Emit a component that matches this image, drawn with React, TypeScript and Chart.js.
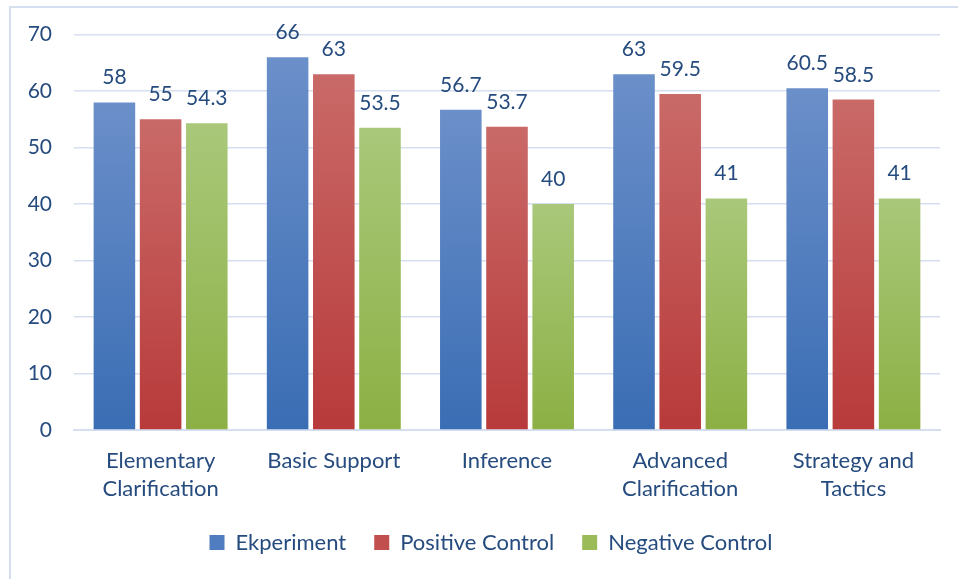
import React, { useEffect, useRef } from "react";
import { Chart, registerables } from "chart.js";

Chart.register(...registerables);

const categories: string[][] = [
  ["Elementary", "Clarification"],
  ["Basic Support"],
  ["Inference"],
  ["Advanced", "Clarification"],
  ["Strategy and", "Tactics"],
];
const ekperiment = [58, 66, 56.7, 63, 60.5];
const positiveControl = [55, 63, 53.7, 59.5, 58.5];
const negativeControl = [54.3, 53.5, 40, 41, 41];
const yTicks = [0, 10, 20, 30, 40, 50, 60, 70];

const TEXT = "#264b7e";
const FONT = "Lato";
const FS = 21;

function gradFill(top: string, bottom: string) {
  return (ctx: any) => {
    const chart = ctx.chart;
    const area = chart.chartArea;
    if (!area || ctx.raw == null) return bottom;
    const ys = chart.scales.y;
    const y0 = ys.getPixelForValue(ctx.raw);
    const y1 = ys.getPixelForValue(0);
    const g = chart.ctx.createLinearGradient(0, y0, 0, y1);
    g.addColorStop(0, top);
    g.addColorStop(1, bottom);
    return g;
  };
}

const valueLabels = {
  id: "valueLabels",
  afterDatasetsDraw(chart: any) {
    const c = chart.ctx;
    c.save();
    c.font = `${FS}px ${FONT}`;
    c.fillStyle = TEXT;
    c.textAlign = "center";
    c.textBaseline = "alphabetic";
    chart.data.datasets.forEach((ds: any, i: number) => {
      const meta = chart.getDatasetMeta(i);
      meta.data.forEach((bar: any, j: number) => {
        c.fillText(String(ds.data[j]), bar.x, bar.y - 18);
      });
    });
    c.restore();
  },
};

const frame = {
  id: "frame",
  beforeDraw(chart: any) {
    const c = chart.ctx;
    c.save();
    c.strokeStyle = "#d5dff0";
    c.lineWidth = 2;
    c.strokeRect(10, 7, 1000, 1000);
    c.restore();
  },
};

// centre the legend row under the frame (Excel-style) rather than the padded canvas
const legendShift = {
  id: "legendShift",
  afterLayout(chart: any) {
    if (chart.legend) {
      chart.legend.left += 21;
      chart.legend.right += 21;
    }
  },
};

export default function App() {
  const ref = useRef<HTMLCanvasElement>(null);
  useEffect(() => {
    if (!ref.current) return;
    const chart = new Chart(ref.current, {
      type: "bar",
      data: {
        labels: categories,
        datasets: [
          {
            label: "Ekperiment",
            data: ekperiment,
            backgroundColor: gradFill("#6b8fc9", "#3a6db4"),
            borderWidth: 0,
          },
          {
            label: "Positive Control",
            data: positiveControl,
            backgroundColor: gradFill("#c96a68", "#b83a3a"),
            borderWidth: 0,
          },
          {
            label: "Negative Control",
            data: negativeControl,
            backgroundColor: gradFill("#a9c87a", "#8cb044"),
            borderWidth: 0,
          },
        ],
      },
      plugins: [frame, valueLabels, legendShift],
      options: {
        animation: false,
        responsive: false,
        devicePixelRatio: 1,
        layout: { padding: { top: 29, right: 18, left: 0, bottom: 15.5 } },
        scales: {
          x: {
            grid: { display: false, drawTicks: false },
            border: { display: true, color: "#d5dff0", width: 2 },
            ticks: {
              color: TEXT,
              font: { family: FONT, size: 22, lineHeight: 1.27 },
              padding: 17,
              maxRotation: 0,
              autoSkip: false,
            },
            afterFit(scale: any) {
              scale.height = 73.5;
            },
            categoryPercentage: 0.83,
            barPercentage: 0.82,
          },
          y: {
            min: 0,
            max: 70,
            afterBuildTicks(scale: any) {
              scale.ticks = yTicks.map((v) => ({ value: v }));
            },
            afterFit(scale: any) {
              scale.width = 74;
            },
            grid: { color: "#d5dff0", lineWidth: 1.5, drawTicks: false },
            border: { display: false },
            ticks: {
              color: TEXT,
              font: { family: FONT, size: FS },
              padding: 22,
            },
          },
        },
        plugins: {
          legend: {
            position: "bottom",
            labels: {
              color: TEXT,
              font: { family: FONT, size: 22 },
              boxWidth: 15,
              boxHeight: 15,
              padding: 28,
              generateLabels(chart: any) {
                const cols = ["#4f7dbf", "#c04f4d", "#9bbb59"];
                return chart.data.datasets.map((d: any, i: number) => ({
                  text: d.label,
                  fillStyle: cols[i],
                  strokeStyle: cols[i],
                  lineWidth: 0,
                  fontColor: TEXT,
                  datasetIndex: i,
                  hidden: false,
                }));
              },
            },
          },
          tooltip: { enabled: false },
        },
      },
    });
    return () => chart.destroy();
  }, []);
  return (
    <div style={{ position: "absolute", left: 0, top: 0, width: 958, height: 579, background: "#fff" }}>
      <canvas ref={ref} width={958} height={579} style={{ display: "block" }} />
    </div>
  );
}
